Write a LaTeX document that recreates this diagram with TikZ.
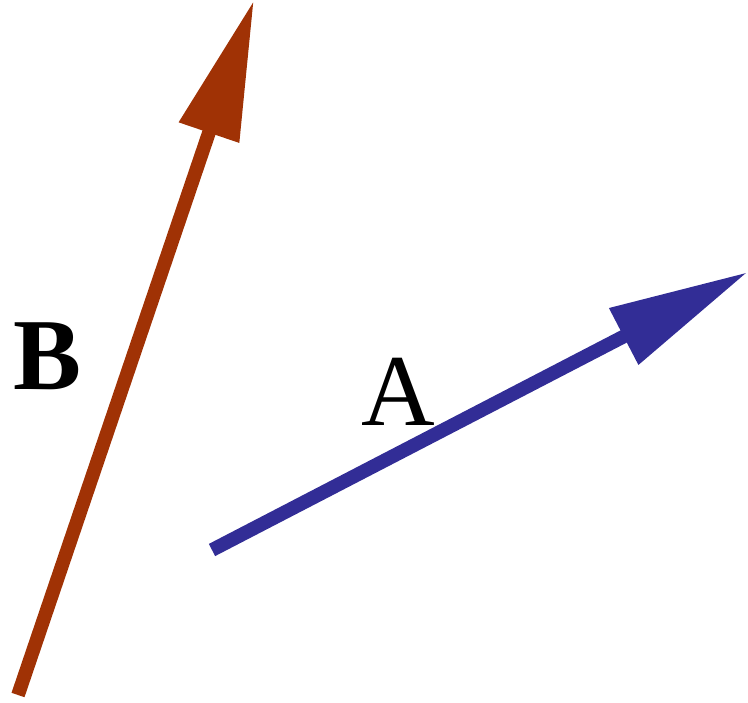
\documentclass[tikz,border=0pt]{standalone}
\usepackage{fontspec}
\setmainfont{Liberation Serif}
\usepackage{tikz}
\usetikzlibrary{arrows.meta}
\definecolor{vecbrown}{RGB}{160,50,5}
\definecolor{vecblue}{RGB}{50,45,150}
\tikzstyle{vecarrow}=[-{Triangle[length=14mm, width=6mm]}, line width=3.9pt]

\begin{document}
\begin{tikzpicture}[x=0.01cm, y=-0.01cm,
  veclabel/.style={font=\fontsize{29}{31}\selectfont, inner sep=0pt}
]
\useasboundingbox (0,0) rectangle (748,703);
\coordinate (b0) at (18,695);
\coordinate (b1) at (254,0);
\coordinate (a0) at (212,550);
\coordinate (a1) at (748,272);
\node[veclabel, font=\fontsize{29}{31}\selectfont\bfseries] (lb) at (48,356) {B};
\node[veclabel] (la) at (398,392) {A};

\draw[vecarrow, color=vecbrown] (b0) -- (b1);
\draw[vecarrow, color=vecblue]  (a0) -- (a1);
\end{tikzpicture}
\end{document}
